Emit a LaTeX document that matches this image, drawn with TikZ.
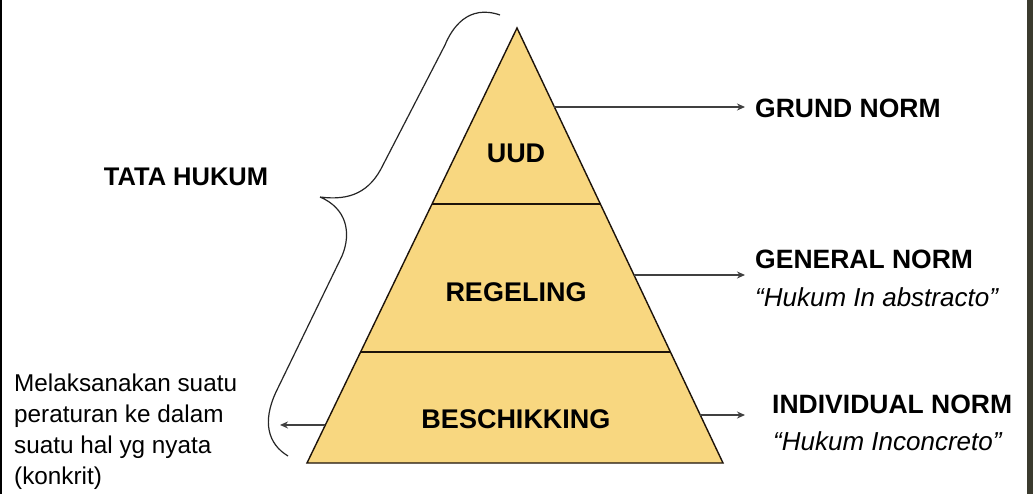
\documentclass[tikz,border=0pt]{standalone}
\usepackage{fontspec}
\setmainfont{Liberation Sans}
\usetikzlibrary{arrows.meta}
\definecolor{pyr}{HTML}{F8D780}
\definecolor{edgeband}{HTML}{3B3B2E}
\tikzset{
  layer/.style={font=\bfseries\fontsize{27}{30}\selectfont, inner sep=0pt},
  normlabel/.style={font=\bfseries\fontsize{26.5}{30}\selectfont, inner sep=0pt, anchor=west},
  quote/.style={font=\itshape\fontsize{26}{30}\selectfont, inner sep=0pt, anchor=west},
  conn/.style={draw=black!75, line width=1.3pt, -{Stealth[length=8pt,width=7pt]}},
  pyrline/.style={draw=black!85!brown, line width=1.4pt}
}
\begin{document}
\begin{tikzpicture}[x=1pt,y=-1pt]
\useasboundingbox (0,0) rectangle (1033,494);
\fill[white] (0,0) rectangle (1033,494);
\fill[black] (0,0) rectangle (2,494);
\fill[edgeband] (1027,0) rectangle (1033,494);
% pyramid
\coordinate (apex) at (517,28);
\coordinate (bl) at (307,463);
\coordinate (br) at (723,463);
\fill[pyr] (apex) -- (br) -- (bl) -- cycle;
% dividers
\path (apex) -- (bl) coordinate[pos=0.4046] (d1l) coordinate[pos=0.7448] (d2l);
\path (apex) -- (br) coordinate[pos=0.4046] (d1r) coordinate[pos=0.7448] (d2r);
\draw[pyrline] (d1l) -- (d1r);
\draw[pyrline] (d2l) -- (d2r);
\draw[pyrline, line join=miter] (apex) -- (br) -- (bl) -- cycle;
% layer labels
\node[layer] (uud) at (516,153) {UUD};
\node[layer] (reg) at (516,292) {REGELING};
\node[layer] (besch) at (516,419) {BESCHIKKING};
% right labels
\node[normlabel] (grund) at (755,108) {GRUND NORM};
\node[normlabel] (general) at (755,259) {GENERAL NORM};
\node[quote] (abs) at (755,297) {“Hukum In abstracto”};
\node[normlabel] (indiv) at (772,404) {INDIVIDUAL NORM};
\node[quote] (conc) at (773,441) {“Hukum Inconcreto”};
% arrow anchors on pyramid edges
\path (apex) -- (br) coordinate[pos=0.1816] (e1) coordinate[pos=0.5678] (e2) coordinate[pos=0.8897] (e3);
\path (apex) -- (bl) coordinate[pos=0.9126] (e4);
\coordinate (t1) at (745,108);
\coordinate (t2) at (745,275);
\coordinate (t3) at (745,415);
\coordinate (t4) at (280,425);
\draw[conn] (e1) -- (t1 |- e1);
\draw[conn] (e2) -- (t2 |- e2);
\draw[conn] (e3) -- (t3 |- e3);
\draw[conn] (e4) -- (t4 |- e4);
% left labels
\node[font=\bfseries\fontsize{25.5}{30}\selectfont, inner sep=0pt] (tata) at (186,177) {TATA HUKUM};
\node[font=\fontsize{24.3}{31}\selectfont, inner sep=0pt, anchor=north west, align=left] (mel) at (14,374)
  {Melaksanakan suatu\\peraturan ke dalam\\suatu hal yg nyata\\(konkrit)};
% brace
\coordinate (btop) at (500,15);
\coordinate (btip) at (320,197);
\coordinate (bbot) at (288,456);
\draw[line width=1.2pt, black!85]
  (btop) .. controls (468,4) and (452,28) .. (445,45)
  -- (383,165) .. controls (370,192) and (350,201) .. (btip)
  (btip) .. controls (346,208) and (352,232) .. (342,256)
  -- (276,392) .. controls (262,422) and (268,444) .. (bbot);
\end{tikzpicture}
\end{document}
